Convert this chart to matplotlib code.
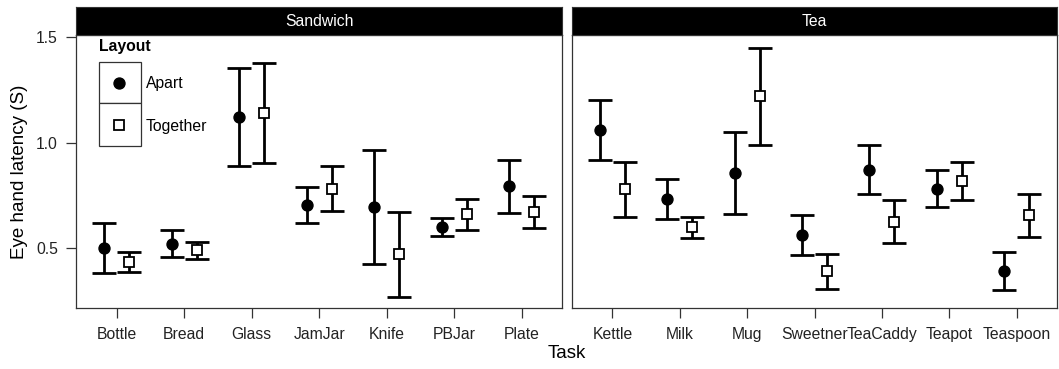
import matplotlib
matplotlib.use('Agg')
import matplotlib.pyplot as plt
from matplotlib.patches import Rectangle
import numpy as np

plt.rcParams['font.family'] = ['Liberation Sans', 'DejaVu Sans']

# Data (means with lower / upper interval ends)
sandwich_tasks = ['Bottle', 'Bread', 'Glass', 'JamJar', 'Knife', 'PBJar', 'Plate']
sandwich_apart_mean = [0.500, 0.521, 1.121, 0.702, 0.693, 0.601, 0.795]
sandwich_apart_lo = [0.382, 0.459, 0.887, 0.618, 0.423, 0.558, 0.665]
sandwich_apart_hi = [0.618, 0.585, 1.356, 0.788, 0.964, 0.642, 0.919]
sandwich_together_mean = [0.435, 0.489, 1.140, 0.780, 0.472, 0.661, 0.672]
sandwich_together_lo = [0.385, 0.448, 0.903, 0.674, 0.269, 0.585, 0.593]
sandwich_together_hi = [0.483, 0.527, 1.377, 0.887, 0.672, 0.733, 0.747]

tea_tasks = ['Kettle', 'Milk', 'Mug', 'Sweetner', 'TeaCaddy', 'Teapot', 'Teaspoon']
tea_apart_mean = [1.060, 0.733, 0.856, 0.562, 0.872, 0.780, 0.391]
tea_apart_lo = [0.916, 0.639, 0.661, 0.467, 0.755, 0.693, 0.302]
tea_apart_hi = [1.204, 0.826, 1.049, 0.657, 0.990, 0.870, 0.481]
tea_together_mean = [0.780, 0.598, 1.220, 0.391, 0.625, 0.819, 0.655]
tea_together_lo = [0.649, 0.546, 0.990, 0.307, 0.522, 0.729, 0.552]
tea_together_hi = [0.907, 0.649, 1.451, 0.470, 0.727, 0.907, 0.755]

panels = [
    ('Sandwich', sandwich_tasks,
     (sandwich_apart_mean, sandwich_apart_lo, sandwich_apart_hi),
     (sandwich_together_mean, sandwich_together_lo, sandwich_together_hi)),
    ('Tea', tea_tasks,
     (tea_apart_mean, tea_apart_lo, tea_apart_hi),
     (tea_together_mean, tea_together_lo, tea_together_hi)),
]

W, H = 1059, 369
fig = plt.figure(figsize=(W / 100, H / 100), dpi=100)

frame_col = '#333333'
dodge = 0.185
sq_size = 6.8

# pixel boxes of the panels: left, right, top, bottom
boxes = [(76, 562.3, 35, 308.3), (572, 1057, 35, 308.3)]
strip_top = 6.7

axes = []
for (title, tasks, apart, together), (l, r, t, b) in zip(panels, boxes):
    ax = fig.add_axes([l / W, (H - b) / H, (r - l) / W, (b - t) / H])
    sax = fig.add_axes([l / W, (H - t) / H, (r - l) / W, (t - strip_top) / H])
    sax.set_facecolor('black')
    sax.set_xticks([])
    sax.set_yticks([])
    for sp in sax.spines.values():
        sp.set_color(frame_col)
        sp.set_linewidth(0.8)
    sax.text(0.5, 0.48, title, color='white', fontsize=11.3,
             ha='center', va='center', transform=sax.transAxes)

    x = np.arange(1, len(tasks) + 1)
    for (mean, lo, hi), off, style in [(apart, -dodge, 'apart'), (together, dodge, 'together')]:
        mean = np.array(mean)
        yerr = [mean - np.array(lo), np.array(hi) - mean]
        ax.errorbar(x + off, mean, yerr=yerr, fmt='none', ecolor='black',
                    elinewidth=2.0, capsize=8.4, capthick=2.0, zorder=2)
        if style == 'apart':
            ax.plot(x + off, mean, 'o', color='black', markersize=7.9, zorder=3)
        else:
            ax.plot(x + off, mean, 's', markerfacecolor='white', markeredgecolor='black',
                    markeredgewidth=1.3, markersize=sq_size, zorder=3)

    ax.set_xlim(0.4, len(tasks) + 0.6)
    ax.set_ylim(0.214, 1.511)
    ax.set_xticks(x)
    ax.set_xticklabels(tasks)
    for sp in ax.spines.values():
        sp.set_color(frame_col)
        sp.set_linewidth(0.9)
    ax.tick_params(axis='both', labelsize=11.3, labelcolor='#222222', color=frame_col,
                   length=7, width=0.9)
    ax.tick_params(axis='x', pad=6.5)
    ax.tick_params(axis='y', pad=6)
    axes.append(ax)

ax1, ax2 = axes
ax1.set_yticks([0.5, 1.0, 1.5])
ax1.set_yticklabels(['0.5', '1.0', '1.5'])
ax2.set_yticks([])
ax2.tick_params(axis='y', length=0)

fig.text(20 / W, (H - 171.5) / H, 'Eye hand latency (S)', rotation=90,
         fontsize=13.5, ha='center', va='center')
fig.text(566.5 / W, (H - 353) / H, 'Task', fontsize=13.5, ha='center', va='center')

# legend drawn inside the first panel
l, r, t, b = boxes[0]

def fx(px):
    return (px - l) / (r - l)

def fy(py):
    return (b - py) / (b - t)

ax1.text(fx(99), fy(46.7), 'Layout', fontsize=11.3, fontweight='bold',
         ha='left', va='center', transform=ax1.transAxes)
for top, bot in [(61.7, 103.3), (103.3, 145.7)]:
    ax1.add_patch(Rectangle((fx(98.7), fy(bot)), fx(141) - fx(98.7), fy(top) - fy(bot),
                            transform=ax1.transAxes, facecolor='white',
                            edgecolor=frame_col, linewidth=0.9, zorder=4))
ax1.plot([fx(119.3)], [fy(82.5)], 'o', color='black', markersize=7.9,
         transform=ax1.transAxes, zorder=5)
ax1.plot([fx(119.3)], [fy(124.5)], 's', markerfacecolor='white', markeredgecolor='black',
         markeredgewidth=1.3, markersize=sq_size, transform=ax1.transAxes, zorder=5)
ax1.text(fx(145.7), fy(83.3), 'Apart', fontsize=11.3, ha='left', va='center',
         transform=ax1.transAxes)
ax1.text(fx(145.7), fy(126), 'Together', fontsize=11.3, ha='left', va='center',
         transform=ax1.transAxes)

fig.savefig('out.png', dpi=100)
